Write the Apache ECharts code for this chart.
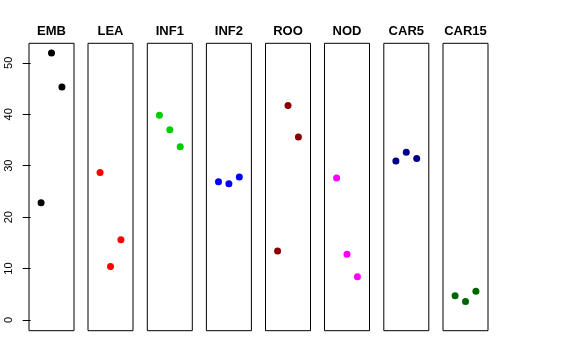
<!DOCTYPE html>
<html>
<head>
<meta charset="utf-8">
<script src="https://cdn.jsdelivr.net/npm/echarts@6/dist/echarts.min.js"></script>
<style>html,body{margin:0;padding:0;background:#fff}#c{width:576px;height:360px}</style>
</head>
<body>
<div id="c"></div>
<script>
const panels = ['EMB', 'LEA', 'INF1', 'INF2', 'ROO', 'NOD', 'CAR5', 'CAR15'];
const xIndex = [1, 2, 3];
const EMB = [22.8, 51.9, 45.3];
const LEA = [28.7, 10.4, 15.6];
const INF1 = [39.8, 37.0, 33.7];
const INF2 = [26.9, 26.5, 27.8];
const ROO = [13.4, 41.7, 35.6];
const NOD = [27.6, 12.8, 8.4];
const CAR5 = [30.9, 32.6, 31.4];
const CAR15 = [4.7, 3.6, 5.6];
const yTicks = [0, 10, 20, 30, 40, 50];

const values = [EMB, LEA, INF1, INF2, ROO, NOD, CAR5, CAR15];
const colors = ['#000000', '#FF0000', '#00CD00', '#0000FF', '#8B0000', '#FF00FF', '#00008B', '#006400'];

const lefts = [29, 88, 147.3, 206.4, 265.5, 324.5, 383.8, 443];
const gridTop = 43.3, gridH = 287.4, gridW = 45;

const grid = [], xAxis = [], yAxis = [], series = [];
panels.forEach((p, i) => {
  grid.push({left: lefts[i], top: gridTop, width: gridW, height: gridH, show: true,
    borderColor: '#000', borderWidth: 1, backgroundColor: 'transparent', containLabel: false});
  xAxis.push({gridIndex: i, type: 'value', min: -0.16, max: 4.16, position: 'top',
    name: p, nameLocation: 'middle', nameGap: 5,
    nameTextStyle: {fontFamily: 'Liberation Sans', fontWeight: 'bold', fontSize: 13, color: '#000'},
    axisLine: {show: false}, axisTick: {show: false}, axisLabel: {show: false}, splitLine: {show: false}});
  yAxis.push({gridIndex: i, type: 'value', min: -2.07, max: 53.8,
    axisLine: {show: false},
    axisTick: {show: i === 0, length: 8, lineStyle: {color: '#000'}, customValues: yTicks},
    axisLabel: {show: i === 0, rotate: 90, margin: 14.5, fontFamily: 'Liberation Sans', fontSize: 11, color: '#000', customValues: yTicks},
    splitLine: {show: false}});
  series.push({type: 'scatter', xAxisIndex: i, yAxisIndex: i, symbolSize: 7,
    itemStyle: {color: colors[i], opacity: 1},
    data: xIndex.map((x, k) => [x, values[i][k]])});
});

const chart = echarts.init(document.getElementById('c'), null, {renderer: 'canvas'});
chart.setOption({animation: false, grid, xAxis, yAxis, series});
</script>
</body>
</html>
